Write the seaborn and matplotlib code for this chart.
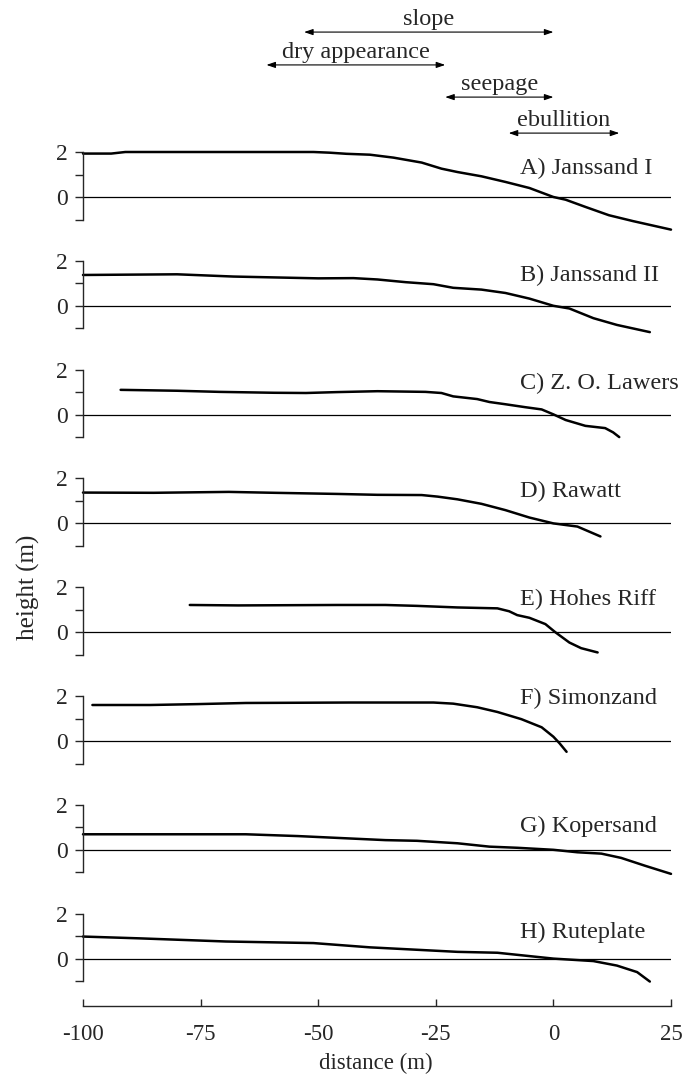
import matplotlib
matplotlib.use("Agg")
import matplotlib.pyplot as plt
import seaborn as sns
import pandas as pd

# ---------------- data ----------------
site_names = ["A) Janssand I", "B) Janssand II", "C) Z. O. Lawers", "D) Rawatt",
              "E) Hohes Riff", "F) Simonzand", "G) Kopersand", "H) Ruteplate"]

a_dist = [-100, -94, -91, -71, -51, -47.6, -44, -39, -34, -28, -23.8, -20.4, -15.3, -10.2, -5.1, 0, 2.6, 6.8, 11.8, 16.9, 25]
a_height = [1.93, 1.93, 2.0, 2.0, 2.0, 1.97, 1.92, 1.88, 1.75, 1.53, 1.26, 1.11, 0.92, 0.67, 0.40, 0.0, -0.12, -0.44, -0.81, -1.07, -1.45]

b_dist = [-100, -80, -68, -50, -42.5, -37.4, -31.4, -25.5, -21.3, -15.3, -10.2, -5.1, 0, 3.4, 8.5, 13.5, 20.5]
b_height = [1.37, 1.40, 1.30, 1.22, 1.23, 1.17, 1.05, 0.96, 0.80, 0.72, 0.57, 0.32, 0.0, -0.12, -0.55, -0.85, -1.17]

c_dist = [-92, -80, -71, -59.4, -52.6, -46, -37.4, -27.2, -23.8, -21.3, -16.2, -13.6, -10.2, -6, -2.5, 0, 2.6, 6.8, 11, 12.7, 14]
c_height = [1.1, 1.06, 1.01, 0.97, 0.96, 1.0, 1.04, 1.01, 0.96, 0.81, 0.69, 0.56, 0.46, 0.33, 0.23, 0.01, -0.24, -0.50, -0.60, -0.79, -1.0]

d_dist = [-100, -85, -69, -59.4, -46, -37.4, -28, -24.6, -20.4, -15.3, -10.2, -5.1, 0, 5.1, 10]
d_height = [1.37, 1.36, 1.40, 1.36, 1.31, 1.27, 1.26, 1.19, 1.07, 0.87, 0.59, 0.26, 0.0, -0.14, -0.58]

e_dist = [-77.3, -67, -46, -35.7, -29, -20.4, -11.9, -9.4, -7.7, -5.1, -1.7, 0.4, 3.4, 5.9, 9.4]
e_height = [1.21, 1.19, 1.21, 1.21, 1.17, 1.10, 1.06, 0.93, 0.76, 0.64, 0.36, 0.0, -0.46, -0.71, -0.90]

f_dist = [-98, -85.7, -75.6, -65.4, -43.3, -25.5, -21.3, -16.2, -11.9, -6.8, -2.5, 0, 1.3, 2.8]
f_height = [1.60, 1.60, 1.64, 1.69, 1.71, 1.71, 1.66, 1.50, 1.29, 0.97, 0.61, 0.19, -0.10, -0.48]

g_dist = [-100, -65.4, -54.3, -35.7, -29, -20.4, -13.6, -7.7, 0, 5.1, 10.2, 14.4, 19.5, 25]
g_height = [0.69, 0.69, 0.61, 0.43, 0.40, 0.29, 0.14, 0.09, 0.0, -0.11, -0.17, -0.36, -0.71, -1.07]

h_dist = [-100, -88, -69.6, -51, -39, -20.4, -11.9, 0, 8.5, 13.5, 17.8, 20.5]
h_height = [0.98, 0.90, 0.76, 0.69, 0.50, 0.30, 0.26, 0.0, -0.11, -0.31, -0.60, -1.02]

label_y = [1.25, 1.35, 1.4, 1.4, 1.45, 1.9, 1.05, 1.15]

zone_names = ["slope", "dry appearance", "seepage", "ebullition"]
zone_start = [-53, -61, -23, -9.5]
zone_end = [0, -23, 0, 14]
zone_level = [7.33, 5.87, 4.44, 2.84]
zone_text_level = [7.87, 6.42, 5.0, 3.40]

x_ticks = [-100, -75, -50, -25, 0, 25]

profiles = list(zip([a_dist, b_dist, c_dist, d_dist, e_dist, f_dist, g_dist, h_dist],
                    [a_height, b_height, c_height, d_height, e_height, f_height, g_height, h_height]))

# ---------------- style ----------------
sns.set_style("ticks")
plt.rcParams["font.family"] = ["Liberation Serif", "DejaVu Serif"]
plt.rcParams["font.size"] = 15

W, H = 682, 1078
fig = plt.figure(figsize=(W / 100, H / 100), dpi=100)

left_px, right_px = 83, 671
top0, bot0, step = 152, 219.5, 108.8

axes = []
for i, (xs, ys) in enumerate(profiles):
    top = top0 + step * i
    bot = bot0 + step * i
    ax = fig.add_axes([left_px / W, 1 - bot / H, (right_px - left_px) / W, (bot - top) / H])
    axes.append(ax)
    df = pd.DataFrame({"distance": xs, "height": ys})
    sns.lineplot(data=df, x="distance", y="height", ax=ax, color="black",
                 linewidth=1.8, sort=False, estimator=None, clip_on=False)
    ax.axhline(0, color="black", linewidth=0.9, zorder=1)
    ax.set_xlim(-100, 25)
    ax.set_ylim(-1, 2)
    ax.set_xlabel("")
    ax.set_ylabel("")
    ax.set_yticks([-1, 0, 1, 2])
    ax.set_yticklabels(["", "0", "", "2"])
    ax.tick_params(axis="y", direction="out", length=6, width=1, pad=5, labelsize=17)
    for s in ["top", "right"]:
        ax.spines[s].set_visible(False)
    ax.spines["left"].set_linewidth(1)
    ax.text(-7, label_y[i], site_names[i], ha="left", va="center", fontsize=17.5)
    if i < 7:
        ax.spines["bottom"].set_visible(False)
        ax.set_xticks([])
    else:
        ax.spines["bottom"].set_position(("outward", 18))
        ax.spines["bottom"].set_linewidth(1)
        ax.set_xticks(x_ticks)
        ax.set_xticklabels([str(t) for t in x_ticks])
        ax.tick_params(axis="x", direction="in", length=5, width=1, pad=13, labelsize=16.5)

# zone arrows above panel A
axA = axes[0]
for name, x0, x1, lvl, tl in zip(zone_names, zone_start, zone_end, zone_level, zone_text_level):
    axA.annotate("", xy=(x1, lvl), xytext=(x0, lvl), xycoords="data",
                 arrowprops=dict(arrowstyle="<|-|>,head_length=0.35,head_width=0.12",
                                 color="black", lw=0.8, shrinkA=0, shrinkB=0),
                 annotation_clip=False)
    axA.text((x0 + x1) / 2, tl, name, ha="center", va="center", fontsize=17.5, clip_on=False)

fig.text(0.041, 0.4555, "height (m)", rotation=90, ha="center", va="center", fontsize=18)
fig.text(0.551, 0.0139, "distance (m)", ha="center", va="center", fontsize=16.5)

fig.savefig("out.png", dpi=100)
